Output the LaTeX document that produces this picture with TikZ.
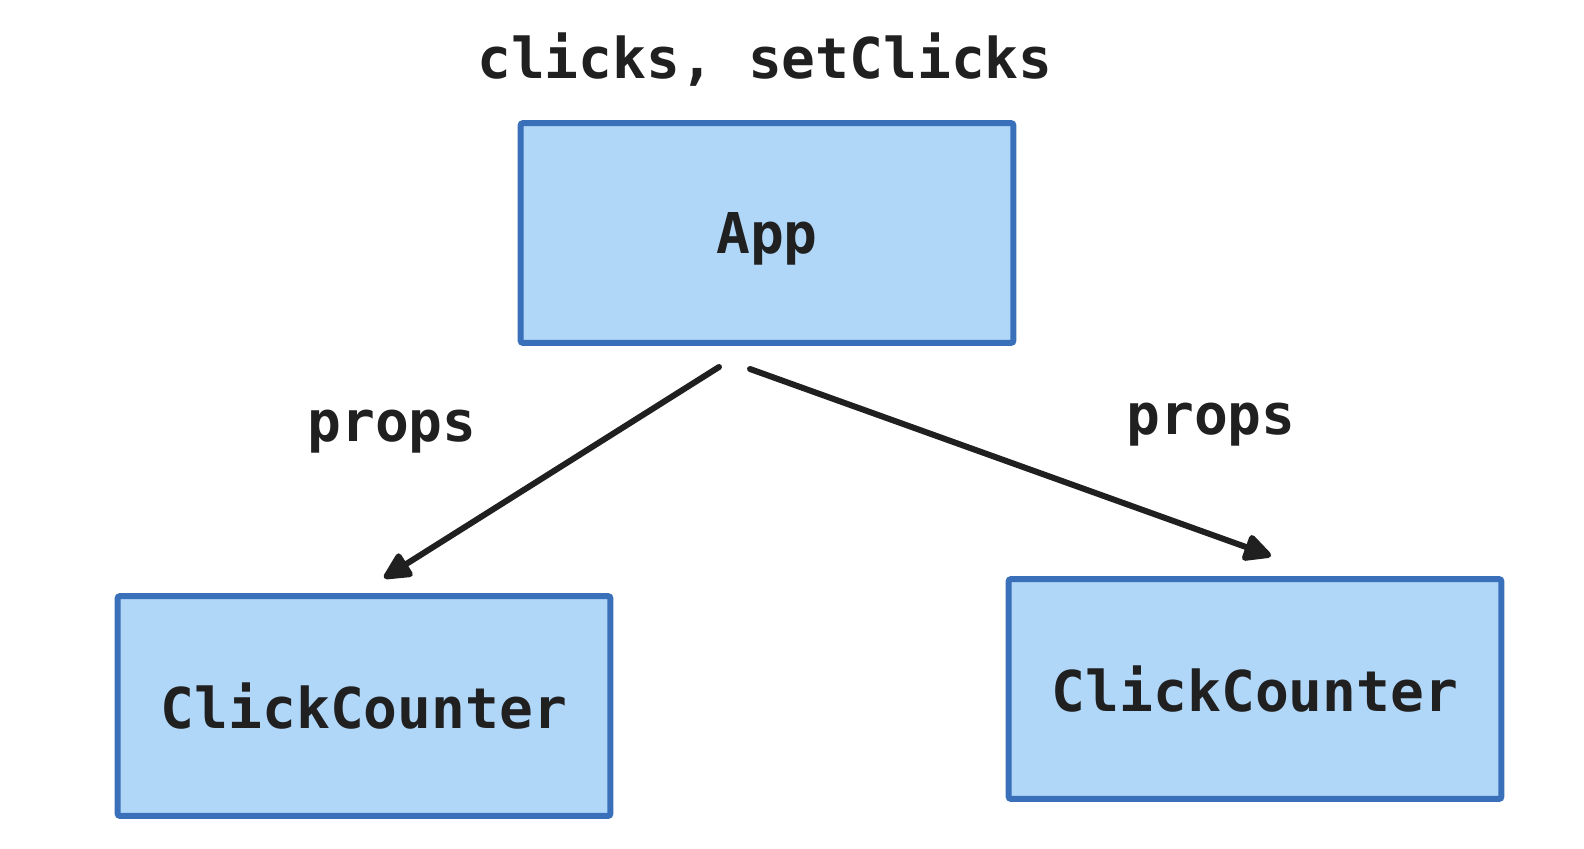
\documentclass[tikz,border=0pt]{standalone}
\usepackage{fontspec}
\setmonofont{DejaVu Sans Mono}
\usetikzlibrary{arrows.meta, positioning}
\usepackage{xcolor}
\definecolor{cblue}{RGB}{58,112,186}
\definecolor{cfill}{RGB}{176,214,248}
\definecolor{cdark}{RGB}{32,32,32}

\begin{document}
\begin{tikzpicture}[x=0.02cm,y=-0.02cm,
  comp/.style={rectangle,draw=cblue,fill=cfill,line width=0.12cm,rounded corners=1.5pt,
               minimum width=9.86cm,minimum height=4.4cm,inner sep=0pt,text depth=0pt,
               font=\ttfamily\bfseries\fontsize{32}{36}\selectfont,text=cdark},
  lbl/.style={font=\ttfamily\bfseries\fontsize{32}{36}\selectfont,text=cdark,
              inner sep=0pt,text depth=0pt},
  arr/.style={-{Triangle[length=0.62cm,width=0.58cm,round]},cdark,
              line width=0.12cm,line cap=round}
]
\useasboundingbox (0,0) rectangle (1584,848);

\node[lbl]  (state) at (765,56)   {clicks, setClicks};
\node[comp] (app)   at (767,233)  {App};
\node[comp] (ccl)   at (364,706)  {ClickCounter};
\node[comp] (ccr)   at (1255,689) {ClickCounter};

\node[lbl] (propsl) at (392,426)  {props};
\node[lbl] (propsr) at (1211,419) {props};

\coordinate (sl) at (719,367);
\coordinate (el) at (384,578);
\coordinate (sr) at (750,369);
\coordinate (er) at (1271,556);

\draw[arr] (sl) -- (el);
\draw[arr] (sr) -- (er);
\end{tikzpicture}
\end{document}
